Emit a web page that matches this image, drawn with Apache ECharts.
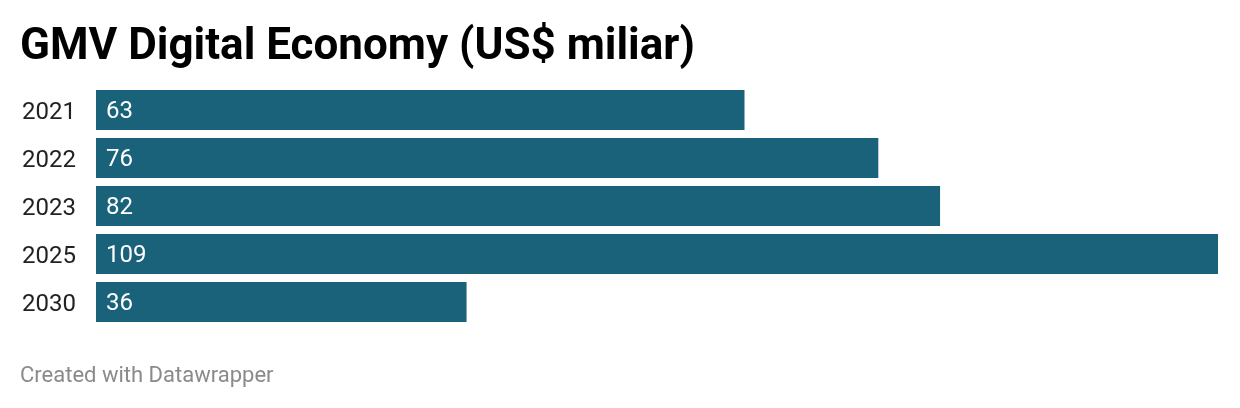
<!DOCTYPE html>
<html>
<head>
<meta charset="utf-8">
<script src="https://cdn.jsdelivr.net/npm/echarts@6/dist/echarts.min.js"></script>
<style>html,body{margin:0;padding:0;background:#fff}#c{width:1240px;height:408px}</style>
</head>
<body>
<div id="c"></div>
<script>
const categories = ['2021', '2022', '2023', '2025', '2030'];
const values = [63, 76, 82, 109, 36];
const titleText = 'GMV Digital Economy (US$ miliar)';
const footerText = 'Created with Datawrapper';

const chart = echarts.init(document.getElementById('c'), null, {renderer: 'canvas'});
chart.setOption({
  animation: false,
  backgroundColor: '#ffffff',
  graphic: [
    {type: 'text', x: 20, y: 48, style: {text: titleText, font: 'bold 44px Roboto', fill: '#000000', textVerticalAlign: 'middle'}},
    {type: 'text', x: 20, y: 376, style: {text: footerText, font: '22px Roboto', fill: '#8a8a8a', textVerticalAlign: 'middle'}}
  ],
  grid: {left: 96, right: 22, top: 86, bottom: 82, containLabel: false},
  xAxis: {type: 'value', min: 0, max: 109, show: false},
  yAxis: {
    type: 'category', data: categories, inverse: true,
    axisLine: {show: false}, axisTick: {show: false}, splitLine: {show: false},
    axisLabel: {
      align: 'left', margin: 74,
      formatter: '{a|{value}}',
      rich: {a: {color: '#222222', fontFamily: 'Roboto', fontSize: 24, padding: [5, 0, 0, 0]}}
    }
  },
  series: [{
    type: 'bar', data: values, barCategoryGap: '16.67%',
    itemStyle: {color: '#19627a'},
    label: {show: true, position: 'insideLeft', distance: 10, offset: [0, 2], color: '#ffffff', fontFamily: 'Roboto', fontSize: 24}
  }]
});
</script>
</body>
</html>
